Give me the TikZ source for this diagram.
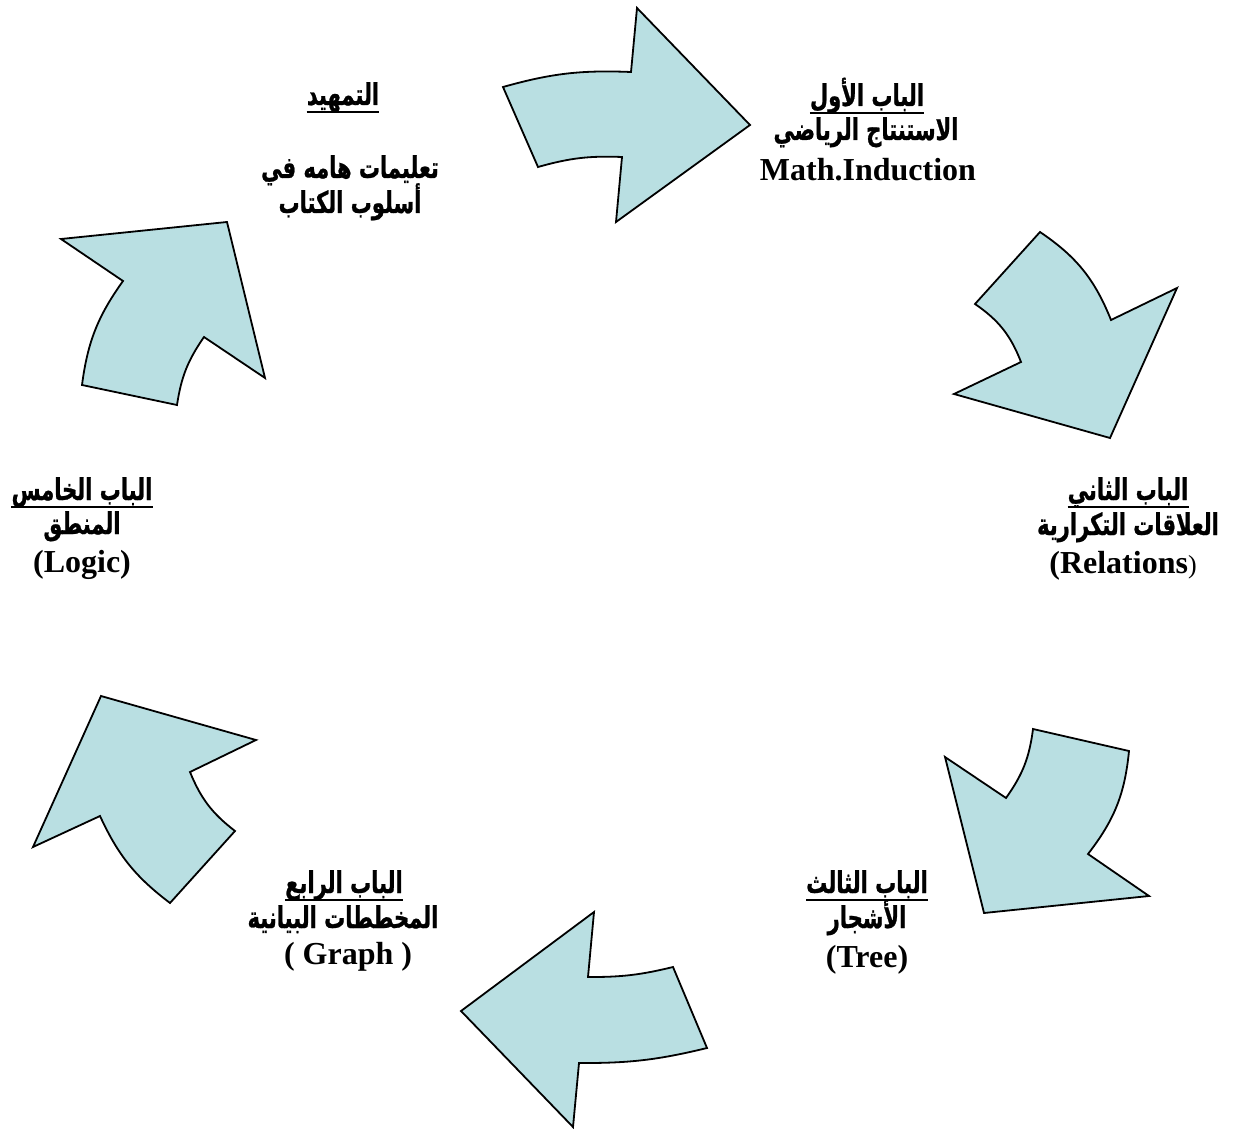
\documentclass[tikz,border=0pt]{standalone}
\usepackage{fontspec}
\setmainfont{Liberation Serif}
\newfontfamily\arabicfont[Script=Arabic, FakeStretch=0.70, BoldFeatures={FakeBold=0.8}]{DejaVu Sans}
\TeXXeTstate=1
\definecolor{arrowfill}{RGB}{185,223,226}
\newcommand{\rtl}[1]{\beginR #1\endR}
\tikzset{
  bigarrow/.style={draw=black, line width=1.8pt, fill=arrowfill, line join=miter},
  artext/.style={inner sep=0pt, anchor=base, font=\arabicfont\bfseries\fontsize{30}{36}\selectfont},
  lattext/.style={inner sep=0pt, anchor=base, font=\bfseries\fontsize{32}{38}\selectfont},
  uline/.style={line width=2.5pt}
}
\begin{document}
\begin{tikzpicture}[x=1pt, y=-1pt]
\fill[white] (0,0) rectangle (1233,1131);
\useasboundingbox (0,0) rectangle (1233,1131);

% curved block arrows, running clockwise round the cycle
\draw[bigarrow] (503,87) to[bend left=9] (631,72) -- (637,8) -- (750,125) -- (616,222)
  -- (622,157) to[bend right=9] (538,167) -- cycle;
\draw[bigarrow] (1040,232) to[bend left=17] (1111,320) -- (1177,288) -- (1110,438)
  -- (954,394) -- (1021,362) to[bend right=17] (975,304) -- cycle;
\draw[bigarrow] (1033,729) -- (1129,751) to[bend left=16] (1088,854) -- (1149,896)
  -- (984,913) -- (945,757) -- (1006,798) to[bend right=14] cycle;
\draw[bigarrow] (673,967) -- (707,1048) to[bend left=7] (579,1063) -- (573,1127)
  -- (461,1011) -- (594,912) -- (588,977) to[bend right=7] cycle;
\draw[bigarrow] (101,696) -- (256,740) -- (190,772) to[bend right=15] (235,831)
  -- (170,903) to[bend left=14] (100,816) -- (33,847) -- cycle;
\draw[bigarrow] (61,239) -- (227,222) -- (265,378) -- (204,337) to[bend right=13] (177,405)
  -- (82,385) to[bend left=14] (123,281) -- cycle;

% introduction
\node[artext] (h1) at (343,105) {\rtl{التمهيد}};
\node[artext] (b1a) at (350,178) {\rtl{تعليمات هامه في}};
\node[artext] (b1b) at (350,213) {\rtl{أسلوب الكتاب}};
% chapter 1
\node[artext] (h2) at (867,106) {\rtl{الباب الأول}};
\node[artext] (b2a) at (866,140) {\rtl{الاستنتاج الرياضي}};
\node[lattext] (b2b) at (868,181) {Math.Induction};
% chapter 2
\node[artext] (h3) at (1128,500) {\rtl{الباب الثاني}};
\node[artext] (b3a) at (1128,535) {\rtl{العلاقات التكرارية}};
\node[lattext] (b3b) at (1123,573) {(Relations{\mdseries\fontsize{26}{30}\selectfont)}};
% chapter 3
\node[artext] (h4) at (867,893) {\rtl{الباب الثالث}};
\node[artext] (b4a) at (867,928) {\rtl{الأشجار}};
\node[lattext] (b4b) at (867,967) {(Tree)};
% chapter 4
\node[artext] (h5) at (344,893) {\rtl{الباب الرابع}};
\node[artext] (b5a) at (343,928) {\rtl{المخططات البيانية}};
\node[lattext] (b5b) at (348,964) {( Graph )};
% chapter 5
\node[artext] (h6) at (82,500) {\rtl{الباب الخامس}};
\node[artext] (b6a) at (82,534) {\rtl{المنطق}};
\node[lattext] (b6b) at (82,572) {(Logic)};

% underlined headings
\foreach \h in {h1,h2,h3,h4,h5,h6}
  \draw[uline] ([yshift=-7pt]\h.base west) -- ([yshift=-7pt]\h.base east);
\end{tikzpicture}
\end{document}
